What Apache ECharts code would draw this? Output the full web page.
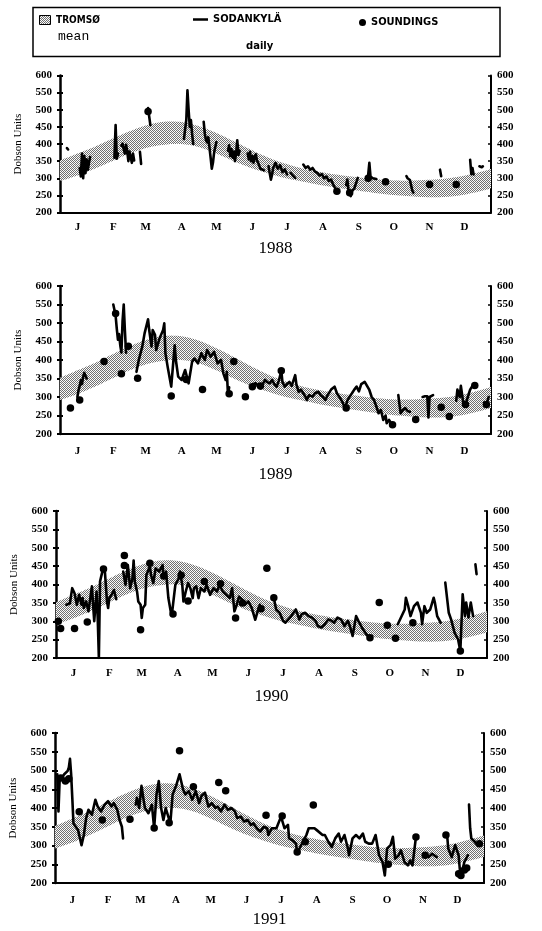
<!DOCTYPE html>
<html><head><meta charset="utf-8">
<script src="https://cdn.jsdelivr.net/npm/echarts@6/dist/echarts.min.js"></script>
<style>html,body{margin:0;padding:0;background:#fff}#c{width:542px;height:931px}</style>
</head><body><div id="c"></div>
<script>
// ---------------- DATA ----------------
const months = ['J','F','M','A','M','J','J','A','S','O','N','D'];
const monthDays = [15,46,74,105,135,166,196,227,258,288,319,349];
const years = ['1988','1989','1990','1991'];

// Tromsø mean band (day of year, lower and upper edge, DU)
const bandDays  = [0,15,30,45,60,75,90,105,120,135,150,165,180,195,210,225,240,255,270,285,300,315,330,345,360,372];
const bandLower = [292,308,328,350,372,389,398,400,391,372,350,330,314,300,290,280,272,265,258,252,248,245,245,250,260,270];
const bandUpper = [352,372,392,415,437,455,465,464,452,432,408,383,360,342,328,318,310,304,298,294,293,295,298,305,316,327];

// Sodankylä daily (day, DU); null = gap
const daily1988 = [
[6,388],[7,384],null,
[17,330],[18,305],[19,372],[20,300],[21,365],[22,315],[23,355],[24,325],[25,345],[26,362],null,
[47,360],[48,455],[49,357],[50,372],null,
[53,395],[54,401],[55,385],[56,372],[57,398],[58,380],[59,350],[60,378],[61,362],[62,345],[63,372],[64,352],null,
[69,377],[70,342],null,
[76,505],[77,480],[78,455],null,
[107,415],[109,470],[110,557],[111,500],[112,450],[113,470],[114,430],[115,400],null,
[124,465],[125,430],[126,411],[127,405],[128,420],[130,360],[131,328],[132,345],[133,375],[135,406],null,
[145,380],[146,396],[147,365],[148,385],[149,360],[150,378],[151,350],[152,372],[153,411],[154,368],[155,380],null,
[162,372],[163,355],[164,377],[165,350],[166,365],[167,345],[168,362],[169,370],[170,352],[171,345],[173,328],[175,325],[176,323],null,
[180,335],[181,315],[182,296],[183,310],[184,330],[186,345],[188,328],[190,338],[192,318],[194,326],[196,311],null,
[199,316],[201,308],[203,301],null,
[210,340],[212,330],[214,335],[216,325],[218,330],[220,320],[222,316],[224,308],[226,312],[228,300],[230,305],[232,292],[234,296],[236,280],[238,268],[239,262],null,
[247,280],[248,296],[249,265],[250,255],[251,248],[252,262],[254,270],[256,290],[257,301],null,
[265,300],[266,310],[267,345],[268,305],[270,300],[271,296],[273,298],null,
[279,292],[281,290],null,
[299,306],[300,300],[301,302],[302,295],[303,280],[304,265],[305,258],null,
[328,325],[329,306],null,
[354,354],[355,312],[356,330],[357,311],null,
[362,335],[364,332],[365,335]
];
const daily1989 = [
[15,300],[16,318],[17,330],[18,345],[19,335],[20,355],[21,365],[22,370],[23,350],null,
[46,550],[47,535],[48,520],[49,485],[50,455],[51,470],[52,440],[53,420],[54,505],[55,550],[56,480],[57,420],null,
[66,368],[68,400],[71,436],[73,472],[76,510],[77,481],[79,436],[80,481],[82,468],[83,427],[86,459],[89,481],[90,499],[91,418],[93,380],[96,328],[99,440],[100,400],[102,355],[105,346],[108,373],[111,337],[114,395],[116,404],[119,391],[122,418],[125,400],[127,427],[130,409],[133,422],[136,391],[139,400],[141,364],[143,346],[144,368],[145,305],[146,326],null,
[165,328],[167,335],[169,337],[171,330],[173,323],[175,335],[177,346],[179,340],[181,337],[183,346],[185,335],[187,328],[189,345],[191,371],[192,340],[194,328],[196,335],[198,341],[200,330],[203,359],[204,335],[206,314],[208,320],[210,310],[212,300],[213,292],[215,305],[218,301],[220,310],[223,314],[225,305],[227,300],[229,292],[231,305],[232,310],[234,320],[237,328],[239,310],[242,296],[244,285],[246,269],[248,290],[250,301],[252,310],[254,320],[256,328],[258,315],[260,335],[263,341],[265,330],[267,319],[269,300],[271,292],[273,275],[275,256],[277,265],[279,238],[281,250],[282,229],[284,238],[287,224],null,
[292,305],[293,280],[294,256],[296,265],[298,270],[300,262],[302,260],null,
[313,300],[315,302],[317,302],[318,245],[319,300],[322,305],null,
[342,290],[343,320],[345,300],[346,330],[348,285],[350,280],[352,300],[354,320],[356,330],[358,331],null,
[366,285],[368,280],[370,300]
];
const daily1990 = [
[9,345],[12,349],[14,390],[16,376],[18,345],[20,372],[22,345],[23,363],[24,336],[26,354],[28,327],[31,395],[32,345],[33,300],[35,381],[36,309],[37,200],[38,408],[40,435],[42,444],[44,354],[45,336],[46,363],[48,372],[50,385],[52,360],null,
[58,435],[60,399],[62,453],[64,390],[66,417],[67,465],[68,408],[70,380],[71,354],[73,345],[74,309],[75,336],[77,345],[78,426],[81,449],[82,426],[84,404],[86,444],[89,435],[92,453],[93,417],[95,435],[97,363],[99,327],[100,318],[101,345],[103,399],[106,417],[107,435],[109,399],[110,354],[112,381],[114,404],[116,390],[118,363],[119,390],[121,395],[123,363],[125,390],[128,381],[130,399],[133,372],[136,390],[139,381],[141,399],[144,381],[147,372],[150,363],[152,390],[154,327],[156,345],[158,367],[161,358],[163,345],[166,354],[169,336],[172,304],[174,327],[176,345],null,
[188,364],[190,332],[193,323],[196,301],[198,296],[203,314],[207,332],[210,305],[212,319],[215,323],[218,314],[221,310],[224,301],[226,287],[229,283],[232,292],[235,305],[238,301],[240,296],[243,310],[246,305],[249,287],[252,301],[254,283],[256,260],[259,314],[261,301],[264,283],[268,264],[271,255],null,
[295,292],[301,332],[302,364],[304,341],[306,314],[309,341],[312,351],[315,323],[316,292],[318,341],[320,323],[323,332],[326,364],[327,351],[329,314],[332,296],null,
[336,405],[339,323],[341,305],[344,269],[347,251],[349,219],[351,373],[353,314],[354,351],[356,310],[358,351],[360,314],null,
[362,455],[363,428]
];
const daily1991 = [
[2,490],[3,391],[4,472],[6,481],[8,490],[11,499],[12,508],[13,531],[14,490],[15,427],[16,359],[18,350],[19,355],[20,341],[23,301],[25,328],[27,373],[29,395],[32,382],[35,422],[37,404],[40,391],[43,409],[46,418],[49,404],[51,413],[54,395],[56,368],[58,350],[59,319],null,
[70,409],[71,427],[73,400],[75,459],[77,418],[78,400],[81,386],[84,409],[86,346],[88,436],[90,472],[92,400],[94,368],[96,400],[100,359],[102,436],[105,459],[108,490],[109,486],[111,450],[113,436],[116,445],[119,422],[122,445],[125,413],[127,432],[130,441],[133,404],[136,413],[139,400],[141,404],[144,391],[147,409],[150,395],[153,400],[156,391],[158,373],[161,377],[164,364],[167,368],[170,355],[172,359],[175,346],[178,337],[181,350],[184,346],[185,328],[188,346],[192,346],[196,377],[199,346],[202,355],[203,319],[206,314],[209,305],[210,278],[212,292],[215,310],[218,328],[220,346],[225,346],[227,341],[232,328],[234,328],[237,310],[240,296],[243,319],[246,332],[248,310],[251,328],[254,292],[255,274],[258,319],[261,328],[264,319],[267,332],[269,310],[272,305],[275,305],[278,328],[281,274],[284,256],[286,220],[288,292],[291,301],[293,323],[295,265],[298,274],[300,287],[303,256],[306,247],[308,260],[310,247],[313,323],null,
[321,274],[324,269],[327,278],[331,269],null,
[340,328],[341,292],[344,269],[347,301],[350,274],[351,238],[352,220],[355,256],[358,274],null,
[359,409],[360,346],[361,319],[364,310],[365,305]
];

// Soundings (day, DU)
const sound1988 = [[76,495],[239,262],[250,258],[266,300],[281,290],[319,282],[342,282]];
const sound1989 = [[9,270],[17,292],[38,396],[48,526],[53,363],[59,437],[67,351],[96,303],[109,347],[123,320],[146,309],[150,396],[160,301],[166,328],[173,330],[191,371],[247,270],[287,225],[307,239],[329,272],[336,247],[350,280],[358,331],[368,280]];
const sound1990 = [[2,300],[4,280],[16,280],[27,298],[41,442],[59,479],[59,452],[73,277],[81,458],[93,423],[101,320],[108,425],[114,355],[128,408],[142,402],[155,309],[161,350],[177,334],[182,444],[188,364],[271,255],[279,351],[286,289],[293,254],[308,296],[349,219]];
const sound1991 = [[5,480],[9,472],[12,478],[21,390],[41,368],[65,370],[86,347],[99,361],[108,553],[120,457],[142,468],[148,446],[183,381],[197,379],[210,283],[217,310],[224,408],[289,250],[313,323],[321,274],[339,328],[350,225],[352,220],[355,235],[357,240],[368,305]];

const dailyAll = [daily1988, daily1989, daily1990, daily1991];
const soundAll = [sound1988, sound1989, sound1990, sound1991];

// ---------------- LAYOUT / STYLE ----------------
const SERIF = '"Liberation Serif","DejaVu Serif",serif';
const NARROW = '"Liberation Sans Narrow","DejaVu Sans Condensed","Liberation Sans",sans-serif';
const grids = [
  {left:60, top:75.5, width:431, height:137},
  {left:60, top:286, width:431, height:148},
  {left:56, top:511, width:431, height:147},
  {left:55, top:733, width:429, height:150}
];
const labelMargins = [9, 12, 10, 12];
const nameGaps = [28, 32, 30, 28];

function makePattern(){
  const c = document.createElement('canvas'); c.width = 4; c.height = 4;
  const g = c.getContext('2d');
  g.fillStyle = '#ffffff'; g.fillRect(0,0,4,4);
  g.fillStyle = '#707070';
  [[0,0],[2,0],[1,1],[3,1],[0,2],[2,2],[1,3],[3,3]].forEach(p => g.fillRect(p[0],p[1],1,1));
  g.fillStyle = '#e8e8e8';
  [[3,0],[1,2]].forEach(p => g.fillRect(p[0],p[1],1,1));
  return c;
}
const stipple = {image: makePattern(), repeat: 'repeat'};

function prep(arr){ return arr.map(p => p === null ? ['-','-'] : p); }

function bandRender(params, api){
  if (params.dataIndex !== 0) return null;
  const up = bandDays.map((d,k) => api.coord([d, bandUpper[k]]));
  const lo = bandDays.map((d,k) => api.coord([d, bandLower[k]]));
  function spline(p){
    const out = [];
    for (let j = 0; j < p.length - 1; j++){
      const p0 = p[Math.max(j-1,0)], p1 = p[j], p2 = p[j+1], p3 = p[Math.min(j+2,p.length-1)];
      for (let t = 0; t < 1; t += 0.125){
        const t2 = t*t, t3 = t2*t;
        out.push([
          0.5*((2*p1[0]) + (-p0[0]+p2[0])*t + (2*p0[0]-5*p1[0]+4*p2[0]-p3[0])*t2 + (-p0[0]+3*p1[0]-3*p2[0]+p3[0])*t3),
          0.5*((2*p1[1]) + (-p0[1]+p2[1])*t + (2*p0[1]-5*p1[1]+4*p2[1]-p3[1])*t2 + (-p0[1]+3*p1[1]-3*p2[1]+p3[1])*t3)
        ]);
      }
    }
    out.push(p[p.length-1]);
    return out;
  }
  const top = spline(up), bot = spline(lo).reverse();
  return {type:'polygon', shape:{points: top.concat(bot)}, style:{fill: stipple, stroke:null}, silent:true};
}

const xAxes = [], yAxes = [], series = [];
grids.forEach((g, i) => {
  xAxes.push({
    type:'value', gridIndex:i, min:0, max:372,
    axisLine:{show:true, onZero:false, lineStyle:{color:'#000', width:2}},
    axisTick:{show:false}, splitLine:{show:false},
    axisLabel:{customValues: monthDays, formatter: v => months[monthDays.indexOf(v)],
      fontFamily:SERIF, fontWeight:'bold', fontSize:11, color:'#000', margin:labelMargins[i]},
    name: years[i], nameLocation:'middle', nameGap: nameGaps[i],
    nameTextStyle:{fontFamily:SERIF, fontSize:17, color:'#000'}
  });
  const base = {type:'value', gridIndex:i, min:200, max:600, interval:50, splitLine:{show:false}};
  yAxes.push(Object.assign({}, base, {
    position:'left',
    axisLine:{show:true, lineStyle:{color:'#000', width:2.5}},
    axisTick:{show:true, inside:false, length:3, lineStyle:{color:'#000', width:2}},
    axisLabel:{fontFamily:SERIF, fontWeight:'bold', fontSize:11, color:'#000', margin:8},
    name:'Dobson Units', nameLocation:'middle', nameRotate:90, nameGap:36,
    nameTextStyle:{fontFamily:SERIF, fontSize:11, color:'#000'}
  }));
  yAxes.push(Object.assign({}, base, {
    position:'left', axisLine:{show:false},
    axisTick:{show:true, inside:true, length:3, lineStyle:{color:'#000', width:2}},
    axisLabel:{show:false}
  }));
  yAxes.push(Object.assign({}, base, {
    position:'right',
    axisLine:{show:true, lineStyle:{color:'#000', width:2}},
    axisTick:{show:true, inside:true, length:3, lineStyle:{color:'#000', width:1.5}},
    axisLabel:{fontFamily:SERIF, fontWeight:'bold', fontSize:11, color:'#000', margin:6}
  }));
  const yi = i*3;
  series.push({
    type:'custom', name:'TROMSØ', xAxisIndex:i, yAxisIndex:yi,
    data: bandDays.map((d,k) => [d, bandLower[k], bandUpper[k]]),
    encode:{x:0, y:[1,2]},
    renderItem: bandRender, clip:true, silent:true, z:1,
    itemStyle:{color:'#999'}
  });
  series.push({
    type:'line', name:'SODANKYLÄ', xAxisIndex:i, yAxisIndex:yi,
    data: prep(dailyAll[i]), symbol:'none', connectNulls:false,
    lineStyle:{color:'#000', width:2.6, join:'round', cap:'round'}, itemStyle:{color:'#000'}, z:3
  });
  series.push({
    type:'scatter', name:'SOUNDINGS', xAxisIndex:i, yAxisIndex:yi,
    data: soundAll[i], symbol:'circle', symbolSize:7.5,
    itemStyle:{color:'#000', opacity:1}, z:4
  });
});

const legendText = {fontFamily:NARROW, fontWeight:'bold', fontSize:11, color:'#000'};
const option = {
  animation:false,
  backgroundColor:'#fff',
  grid: grids,
  xAxis: xAxes,
  yAxis: yAxes,
  series: series,
  legend: [
    {data:[{name:'TROMSØ', icon:'rect', itemStyle:{color:'rgba(0,0,0,0)'}}],
     left:39, top:15, itemWidth:12, itemHeight:10, padding:0, selectedMode:false,
     textStyle:Object.assign({}, legendText, {fontSize:10})},
    {data:[{name:'SODANKYLÄ', icon:'rect', itemStyle:{color:'#000'}}],
     left:193, top:14, itemWidth:15, itemHeight:2.5, padding:0, selectedMode:false, textStyle:legendText},
    {data:[{name:'SOUNDINGS', icon:'circle', itemStyle:{color:'#000', opacity:1}}],
     left:359, top:17, itemWidth:7, itemHeight:7, padding:0, selectedMode:false, textStyle:legendText}
  ],
  graphic: [
    {type:'rect', shape:{x:33, y:7.5, width:467, height:49}, style:{fill:'none', stroke:'#000', lineWidth:1.5}, silent:true},
    {type:'rect', shape:{x:39.5, y:15.5, width:11, height:9}, style:{fill:stipple, stroke:'#000', lineWidth:1}, silent:true, z:100},
    {type:'text', x:58, y:30, style:{text:'mean', font:'13px "Liberation Mono","DejaVu Sans Mono",monospace', fill:'#000'}, silent:true},
    {type:'text', x:246, y:41, style:{text:'daily', font:'bold 10px "DejaVu Sans",sans-serif', fill:'#000'}, silent:true}
  ]
};
const chart = echarts.init(document.getElementById('c'), null, {renderer:'canvas'});
chart.setOption(option);
</script>
</body></html>
